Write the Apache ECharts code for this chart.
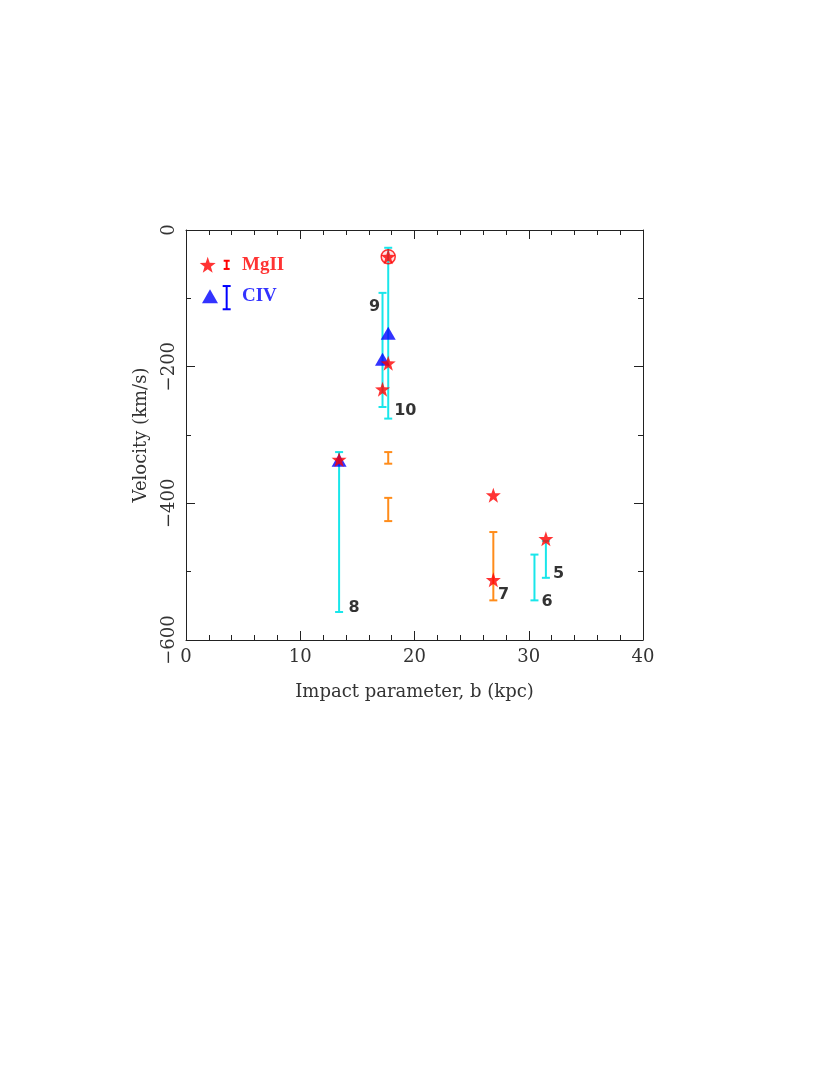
<!DOCTYPE html>
<html>
<head>
<meta charset="utf-8">
<script src="https://cdn.jsdelivr.net/npm/echarts@6/dist/echarts.min.js"></script>
<style>
  html, body { margin: 0; padding: 0; background: #fff; }
  #chart { width: 830px; height: 1075px; }
</style>
</head>
<body>
<div id="chart"></div>
<script>
// data
const starPts = [[17.7, -39], [17.7, -195], [17.2, -233], [13.4, -336], [26.9, -388], [26.9, -512], [31.5, -452]];
const trianglePts = [[17.7, -151], [17.2, -189], [13.4, -337]];
const circledPts = [[17.7, -39]];
// [x, top, bottom]
const cyanBars = [[17.7, -26, -276], [17.2, -92, -259], [13.4, -325, -559], [30.5, -475, -542], [31.5, -455, -509]];
const orangeBars = [[17.7, -325, -342], [17.7, -392, -426], [26.9, -442, -542]];
const idLabels = [[32.6, -503, '5'], [31.6, -544, '6'], [27.8, -534, '7'], [14.7, -553, '8'], [16.5, -113, '9'], [19.2, -264, '10']];

// legend block
const legStar = [[1.9, -51]];
const legTri = [[2.1, -97]];
const legRedBar = [[3.56, -45, -57]];
const legBlueBar = [[3.56, -82, -116]];
const legText = [[4.9, -51, 'MgII', '#ff0000'], [4.9, -97, 'CIV', '#0000ff']];

const xTicks = { min: 0, max: 40, interval: 10 };
const yTicks = { min: -600, max: 0, interval: 200 };

const STAR = 'path://M0,-10 L2.35,-3.24 L9.51,-3.09 L3.8,1.24 L5.88,8.09 L0,4 L-5.88,8.09 L-3.8,1.24 L-9.51,-3.09 L-2.35,-3.24 Z';
const SERIF = '"DejaVu Serif", "Liberation Serif", serif';

function errBars(data, color, width, cap) {
  return {
    type: 'custom', data, z: 2,
    renderItem: (params, api) => {
      const a = api.coord([api.value(0), api.value(1)]);
      const b = api.coord([api.value(0), api.value(2)]);
      const st = { stroke: color, lineWidth: width };
      return {
        type: 'group',
        children: [
          { type: 'line', shape: { x1: a[0], y1: a[1], x2: b[0], y2: b[1] }, style: st },
          { type: 'line', shape: { x1: a[0] - cap, y1: a[1], x2: a[0] + cap, y2: a[1] }, style: st },
          { type: 'line', shape: { x1: b[0] - cap, y1: b[1], x2: b[0] + cap, y2: b[1] }, style: st },
        ],
      };
    },
  };
}

const AX_LINE = { show: true, onZero: false, lineStyle: { color: '#222', width: 1 } };
const TICK = { show: true, inside: true, length: 9, lineStyle: { color: '#222' } };
const minor = n => ({ show: true, splitNumber: n, length: 5, lineStyle: { color: '#222' } });

const chart = echarts.init(document.getElementById('chart'), null, { renderer: 'canvas' });
chart.setOption({
  animation: false,
  backgroundColor: '#fff',
  grid: { left: 186, right: 187, top: 230, bottom: 435 },
  xAxis: [
    {
      type: 'value', ...xTicks, position: 'bottom',
      name: 'Impact parameter, b (kpc)', nameLocation: 'middle', nameGap: 43,
      nameTextStyle: { fontFamily: SERIF, fontSize: 18, color: '#333' },
      axisLine: AX_LINE, axisTick: TICK, minorTick: minor(5),
      axisLabel: { fontFamily: SERIF, fontSize: 18, color: '#333', margin: 8 },
      splitLine: { show: false },
    },
    {
      type: 'value', ...xTicks, position: 'top',
      axisLine: AX_LINE, axisTick: TICK, minorTick: minor(5),
      axisLabel: { show: false },
      splitLine: { show: false },
    },
  ],
  yAxis: [
    {
      type: 'value', ...yTicks, position: 'left',
      name: 'Velocity (km/s)', nameLocation: 'middle', nameGap: 36,
      nameTextStyle: { fontFamily: SERIF, fontSize: 18, color: '#333' },
      axisLine: AX_LINE, axisTick: TICK, minorTick: minor(2),
      axisLabel: {
        fontFamily: SERIF, fontSize: 18, color: '#333', rotate: 90, margin: 8,
        formatter: v => (v < 0 ? '\u2212' + Math.abs(v) : String(v)),
      },
      splitLine: { show: false },
    },
    {
      type: 'value', ...yTicks, position: 'right',
      axisLine: AX_LINE, axisTick: TICK, minorTick: minor(2),
      axisLabel: { show: false },
      splitLine: { show: false },
    },
  ],
  series: [
    errBars(cyanBars, '#19e6ea', 2, 4),
    errBars(orangeBars, '#ff8c1a', 2, 4),
    errBars(legRedBar, '#ff0000', 2, 3),
    errBars(legBlueBar, '#0000ff', 2, 4),
    {
      type: 'scatter', data: trianglePts, symbol: 'triangle', symbolSize: [15, 13], z: 3,
      itemStyle: { color: '#0000ff' },
    },
    {
      type: 'scatter', data: legTri, symbol: 'triangle', symbolSize: [16, 14], z: 3,
      itemStyle: { color: '#0000ff' },
    },
    {
      type: 'scatter', data: starPts, symbol: STAR, symbolSize: 15, z: 4,
      itemStyle: { color: '#ff0000' },
    },
    {
      type: 'scatter', data: legStar, symbol: STAR, symbolSize: 16, z: 4,
      itemStyle: { color: '#ff0000' },
    },
    {
      type: 'scatter', data: circledPts, symbol: 'circle', symbolSize: 14, z: 5,
      itemStyle: { color: 'rgba(255,0,0,0.15)', borderColor: '#ff0000', borderWidth: 1.5 },
    },
    {
      type: 'scatter', data: idLabels.map(d => [d[0], d[1], d[2]]), symbolSize: 0, z: 6,
      label: {
        show: true, position: 'inside', formatter: p => p.value[2],
        fontFamily: '"DejaVu Sans", sans-serif', fontWeight: 'bold', fontSize: 16, color: '#000',
      },
    },
    {
      type: 'scatter', data: legText.map(d => ({ value: [d[0], d[1], d[2]], label: { color: d[3] } })),
      symbolSize: 0, z: 6,
      label: {
        show: true, position: 'right', distance: 0, formatter: p => p.value[2],
        fontFamily: '"Liberation Serif", serif', fontWeight: 'bold', fontSize: 19,
      },
    },
  ],
});
</script>
</body>
</html>
